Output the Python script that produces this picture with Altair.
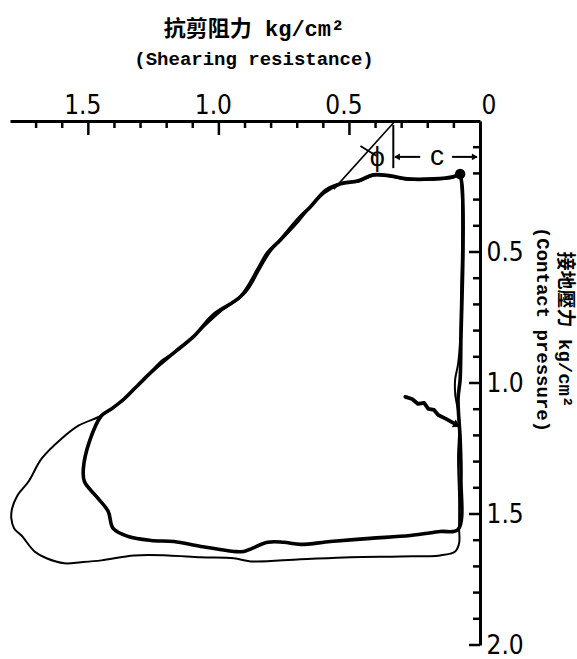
import altair as alt
import pandas as pd

# Outer (thin) loop: shearing resistance vs contact pressure, kg/cm^2
thin_shear = [0.076, 0.103, 0.179, 0.279, 0.344, 0.408, 0.466, 0.527, 0.592, 0.641,
              0.695, 0.752, 0.802, 0.840, 0.897, 0.992, 1.080, 1.145, 1.221, 1.286,
              1.351, 1.405, 1.450, 1.538, 1.603, 1.679, 1.729, 1.772, 1.792, 1.795,
              1.784, 1.756, 1.706, 1.660, 1.592, 1.527, 1.450, 1.324, 1.195, 1.069,
              0.943, 0.878, 0.687, 0.496, 0.305, 0.153, 0.095, 0.080, 0.080, 0.080,
              0.084, 0.080, 0.095, 0.095, 0.084, 0.076, 0.073, 0.069, 0.069, 0.073,
              0.076]
thin_pressure = [0.202, 0.217, 0.224, 0.224, 0.213, 0.209, 0.232, 0.236, 0.262, 0.316,
                 0.384, 0.445, 0.498, 0.559, 0.654, 0.726, 0.806, 0.867, 0.916, 0.989,
                 1.049, 1.095, 1.125, 1.163, 1.213, 1.289, 1.376, 1.430, 1.479, 1.517,
                 1.555, 1.582, 1.643, 1.669, 1.688, 1.684, 1.677, 1.658, 1.658, 1.665,
                 1.669, 1.681, 1.673, 1.665, 1.662, 1.658, 1.643, 1.612, 1.555, 1.441,
                 1.289, 1.137, 1.042, 0.985, 0.928, 0.833, 0.681, 0.490, 0.300, 0.224,
                 0.202]

# Inner (thick) loop
thick_shear = [0.076, 0.103, 0.179, 0.279, 0.344, 0.408, 0.466, 0.534, 0.599, 0.649,
               0.698, 0.763, 0.813, 0.851, 0.916, 1.019, 1.095, 1.156, 1.233, 1.298,
               1.363, 1.412, 1.450, 1.496, 1.519, 1.515, 1.462, 1.424, 1.405, 1.347,
               1.260, 1.172, 1.069, 0.943, 0.905, 0.813, 0.752, 0.687, 0.573, 0.420,
               0.267, 0.153, 0.084, 0.073, 0.076, 0.084, 0.076, 0.073, 0.069, 0.065,
               0.065, 0.069, 0.076]
thick_pressure = [0.202, 0.213, 0.221, 0.221, 0.209, 0.205, 0.228, 0.240, 0.274, 0.327,
                  0.376, 0.452, 0.502, 0.567, 0.669, 0.738, 0.821, 0.871, 0.935, 0.996,
                  1.061, 1.099, 1.125, 1.224, 1.327, 1.376, 1.441, 1.490, 1.555, 1.586,
                  1.601, 1.605, 1.624, 1.643, 1.643, 1.608, 1.608, 1.616, 1.605, 1.593,
                  1.582, 1.567, 1.559, 1.365, 1.213, 1.061, 0.985, 0.833, 0.681, 0.490,
                  0.338, 0.243, 0.202]

# Starting point of the record
start_shear = [0.076]
start_pressure = [0.202]

# Coulomb line (cohesion c, friction angle phi)
phi_line_shear = [0.325, 0.56]
phi_line_pressure = [0.0, 0.26]
phi_arc_shear = [0.458, 0.397]
phi_arc_pressure = [0.095, 0.133]
c_bar_shear = [0.332, 0.332]
c_bar_pressure = [0.015, 0.18]
c_left_shear = [0.229, 0.325]
c_right_shear = [0.107, 0.012]
c_arrow_pressure = [0.137, 0.137]

# Hand-drawn pointer to the right-hand branch
pointer_shear = [0.286, 0.260, 0.237, 0.214, 0.198, 0.176, 0.160, 0.130, 0.103, 0.080]
pointer_pressure = [1.053, 1.061, 1.080, 1.076, 1.099, 1.103, 1.122, 1.137, 1.152, 1.163]

# Axes: labelled values and inward tick marks
x_label_values = [0, 0.5, 1.0, 1.5]
x_major_ticks = [0.5, 1.0, 1.5]
x_minor_ticks = [0.1, 0.2, 0.3, 0.4, 0.6, 0.7, 0.8, 0.9,
                 1.1, 1.2, 1.3, 1.4, 1.6, 1.7]
y_label_values = [0.5, 1.0, 1.5, 2.0]
y_major_ticks = [0.5, 1.0, 1.5, 2.0]
y_minor_ticks = [0.1, 0.2, 0.3, 0.4, 0.6, 0.7, 0.8, 0.9,
                 1.1, 1.2, 1.3, 1.4, 1.6, 1.7, 1.8, 1.9]

W, H = 470, 524
NUM_FONT = "Liberation Sans Narrow, DejaVu Sans Condensed, Liberation Sans"
TITLE_FONT = "Liberation Mono, Noto Sans CJK TC"


def path(shear, pressure):
    return pd.DataFrame({"shear": shear, "pressure": pressure,
                         "order": list(range(len(shear)))})


x_scale = alt.Scale(domain=[0, 1.8], reverse=True, nice=False, zero=False)
y_scale = alt.Scale(domain=[0, 2.0], reverse=True, nice=False, zero=False)

x_label_axis = alt.Axis(
    orient="top", values=x_label_values, ticks=False, grid=False,
    domain=True, domainColor="black", domainWidth=3,
    labelFont=NUM_FONT, labelFontSize=26, labelColor="black", labelPadding=3,
    labelExpr="datum.value == 0 ? '0' : format(datum.value, '.1f')",
    labelAlign={"condition": {"test": "datum.value == 0", "value": "left"}, "value": "center"},
    labelOffset={"condition": {"test": "datum.value == 0", "value": 1}, "value": -6},
    labelFlush=False, labelOverlap=False, title=None,
)
y_label_axis = alt.Axis(
    orient="right", values=y_label_values, ticks=False, grid=False,
    domain=True, domainColor="black", domainWidth=3,
    labelFont=NUM_FONT, labelFontSize=26, labelColor="black", labelPadding=6,
    format=".1f", labelFlush=False, labelOverlap=False,
    title=["接地壓力  kg/cm²", "(Contact pressure)"],
    titleAngle=90, titleX=84, titleY=208, titleAlign="center", titleBaseline="middle",
    titleFont=TITLE_FONT, titleFontSize=19, titleFontWeight="bold",
    titleColor="black", titleLineHeight=22,
)


def enc(chart, xaxis=None, yaxis=None, order=True):
    kw = dict(
        x=alt.X("shear:Q", scale=x_scale, axis=xaxis),
        y=alt.Y("pressure:Q", scale=y_scale, axis=yaxis),
    )
    if order:
        kw["order"] = alt.Order("order:Q")
    return chart.encode(**kw)


def x_ticks(values, length):
    return alt.Chart(pd.DataFrame({"v": values})).mark_rule(
        color="black", strokeWidth=2.5
    ).encode(
        x=alt.X("v:Q", scale=x_scale, axis=None),
        y=alt.value(0), y2=alt.value(length),
    )


def y_ticks(values, length):
    return alt.Chart(pd.DataFrame({"v": values})).mark_rule(
        color="black", strokeWidth=2.5
    ).encode(
        y=alt.Y("v:Q", scale=y_scale, axis=None),
        x=alt.value(W), x2=alt.value(W - length),
    )


thin = enc(alt.Chart(path(thin_shear, thin_pressure)).mark_line(
    color="black", strokeWidth=2, interpolate="catmull-rom", clip=False),
    xaxis=x_label_axis, yaxis=y_label_axis)
thick = enc(alt.Chart(path(thick_shear, thick_pressure)).mark_line(
    color="black", strokeWidth=3.6, interpolate="catmull-rom", clip=False))
start = enc(alt.Chart(path(start_shear, start_pressure)).mark_point(
    filled=True, color="black", size=110, opacity=1), order=False)

phi_line = enc(alt.Chart(path(phi_line_shear, phi_line_pressure)).mark_line(
    color="black", strokeWidth=1.6))
phi_arc = enc(alt.Chart(path(phi_arc_shear, phi_arc_pressure)).mark_line(
    color="black", strokeWidth=1.8))
c_bar = enc(alt.Chart(path(c_bar_shear, c_bar_pressure)).mark_line(
    color="black", strokeWidth=2))
c_left = enc(alt.Chart(path(c_left_shear, c_arrow_pressure)).mark_line(
    color="black", strokeWidth=2))
c_right = enc(alt.Chart(path(c_right_shear, c_arrow_pressure)).mark_line(
    color="black", strokeWidth=2))
c_left_head = enc(alt.Chart(path([0.318], [0.137])).mark_point(
    shape="triangle-left", filled=True, color="black", size=45, opacity=1), order=False)
c_right_head = enc(alt.Chart(path([0.02], [0.137])).mark_point(
    shape="triangle-right", filled=True, color="black", size=45, opacity=1), order=False)

labels = pd.DataFrame({"shear": [0.165, 0.393], "pressure": [0.137, 0.141],
                       "text": ["c", "ϕ"], "size": [28, 27]})
label_marks = alt.Chart(labels).mark_text(
    color="black", font="Liberation Sans", baseline="middle", align="center"
).encode(
    x=alt.X("shear:Q", scale=x_scale, axis=None),
    y=alt.Y("pressure:Q", scale=y_scale, axis=None),
    text="text:N",
    size=alt.Size("size:Q", scale=None, legend=None),
)

pointer = enc(alt.Chart(path(pointer_shear, pointer_pressure)).mark_line(
    color="black", strokeWidth=3.8, strokeJoin="round", strokeCap="round"))
pointer_head = enc(alt.Chart(path([0.088], [1.16])).mark_point(
    shape="triangle-right", filled=True, color="black", size=70, angle=25, opacity=1),
    order=False)

chart = alt.layer(
    thin, thick, start,
    x_ticks(x_major_ticks, 14), x_ticks(x_minor_ticks, 7),
    y_ticks(y_major_ticks, 11), y_ticks(y_minor_ticks, 7),
    phi_line, phi_arc, c_bar, c_left, c_right,
    c_left_head, c_right_head, label_marks, pointer, pointer_head,
).resolve_axis(
    x="independent", y="independent"
).properties(
    width=W, height=H, background="white",
    padding={"left": 10, "top": 121, "right": 97, "bottom": 14},
    autosize=alt.AutoSizeParams(type="none"),
    title=alt.TitleParams(
        text="抗剪阻力  kg/cm²", subtitle="(Shearing resistance)",
        font=TITLE_FONT, fontSize=22, fontWeight="bold", color="black",
        subtitleFont=TITLE_FONT, subtitleFontSize=19, subtitleFontWeight="bold",
        subtitleColor="black", subtitlePadding=9, anchor="middle", dx=9, offset=22,
    ),
).configure_view(
    strokeWidth=0, stroke="transparent"
)

chart.save("out.html", embed_options={"renderer": "svg", "actions": False})
